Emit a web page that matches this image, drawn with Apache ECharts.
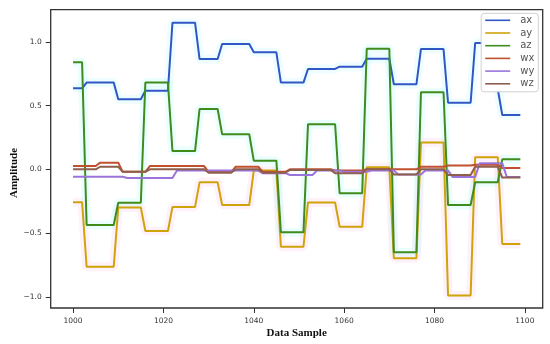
<!DOCTYPE html>
<html><head><meta charset="utf-8">
<script src="https://cdn.jsdelivr.net/npm/echarts@6/dist/echarts.min.js"></script>
<style>html,body{margin:0;padding:0;background:#fff}#c{width:550px;height:344px}</style>
</head><body><div id="c"></div>
<script>
const samples = [];
for (let s = 1000; s <= 1099; s++) samples.push(s);
const xTicks = [1000, 1020, 1040, 1060, 1080, 1100];
const yTicks = [-1.0, -0.5, 0.0, 0.5, 1.0];
const seriesNames = ['ax', 'ay', 'az', 'wx', 'wy', 'wz'];

const ax = [0.635,0.635,0.635,0.68,0.68,0.68,0.68,0.68,0.68,0.68,
0.55,0.55,0.55,0.55,0.55,0.55,0.617,0.617,0.617,0.617,
0.617,0.617,1.15,1.15,1.15,1.15,1.15,1.15,0.865,0.865,
0.865,0.865,0.865,0.983,0.983,0.983,0.983,0.983,0.983,0.983,
0.918,0.918,0.918,0.918,0.918,0.918,0.68,0.68,0.68,0.68,
0.68,0.68,0.787,0.787,0.787,0.787,0.787,0.787,0.787,0.805,
0.805,0.805,0.805,0.805,0.805,0.868,0.868,0.868,0.868,0.868,
0.868,0.667,0.667,0.667,0.667,0.667,0.667,0.943,0.943,0.943,
0.943,0.943,0.943,0.522,0.522,0.522,0.522,0.522,0.522,0.99,
0.99,0.99,0.99,0.99,0.63,0.426,0.426,0.426,0.426,0.426];
const ay = [-0.259,-0.259,-0.259,-0.764,-0.764,-0.764,-0.764,-0.764,-0.764,-0.764,
-0.30,-0.30,-0.30,-0.30,-0.30,-0.30,-0.484,-0.484,-0.484,-0.484,
-0.484,-0.484,-0.295,-0.295,-0.295,-0.295,-0.295,-0.295,-0.102,-0.102,
-0.102,-0.102,-0.102,-0.28,-0.28,-0.28,-0.28,-0.28,-0.28,-0.28,
-0.01,-0.01,-0.01,-0.01,-0.01,-0.01,-0.607,-0.607,-0.607,-0.607,
-0.607,-0.607,-0.26,-0.26,-0.26,-0.26,-0.26,-0.26,-0.26,-0.45,
-0.45,-0.45,-0.45,-0.45,-0.45,0.016,0.016,0.016,0.016,0.016,
0.016,-0.698,-0.698,-0.698,-0.698,-0.698,-0.698,0.21,0.21,0.21,
0.21,0.21,0.21,-0.99,-0.99,-0.99,-0.99,-0.99,-0.99,0.094,
0.094,0.094,0.094,0.094,0.094,-0.586,-0.586,-0.586,-0.586,-0.586];
const az = [0.839,0.839,0.839,-0.437,-0.437,-0.437,-0.437,-0.437,-0.437,-0.437,
-0.262,-0.262,-0.262,-0.262,-0.262,-0.262,0.68,0.68,0.68,0.68,
0.68,0.68,0.143,0.143,0.143,0.143,0.143,0.143,0.473,0.473,
0.473,0.473,0.473,0.275,0.275,0.275,0.275,0.275,0.275,0.275,
0.068,0.068,0.068,0.068,0.068,0.068,-0.494,-0.494,-0.494,-0.494,
-0.494,-0.494,0.353,0.353,0.353,0.353,0.353,0.353,0.353,-0.188,
-0.188,-0.188,-0.188,-0.188,-0.188,0.946,0.946,0.946,0.946,0.946,
0.946,-0.651,-0.651,-0.651,-0.651,-0.651,-0.651,0.604,0.604,0.604,
0.604,0.604,0.604,-0.28,-0.28,-0.28,-0.28,-0.28,-0.28,-0.102,
-0.102,-0.102,-0.102,-0.102,-0.102,0.078,0.078,0.078,0.078,0.078];
const wx = [0.026,0.026,0.026,0.026,0.026,0.026,0.052,0.052,0.052,0.052,
0.052,-0.02,-0.02,-0.02,-0.02,-0.02,-0.02,0.025,0.025,0.025,
0.025,0.025,0.025,0.025,0.025,0.025,0.025,0.025,0.025,0.025,
-0.02,-0.02,-0.02,-0.02,-0.02,-0.02,0.02,0.02,0.02,0.02,
0.02,0.02,-0.02,-0.02,-0.02,-0.02,-0.02,-0.02,0.0,0.0,
0.0,0.0,0.0,0.0,0.0,0.0,0.0,0.0,-0.01,-0.01,
-0.01,-0.01,-0.01,-0.01,-0.01,0.0,0.0,0.0,0.0,0.0,
0.0,0.0,0.0,0.0,0.0,0.0,0.0,0.02,0.02,0.02,
0.02,0.02,0.02,0.03,0.03,0.03,0.03,0.03,0.03,0.035,
0.035,0.035,0.035,0.035,0.035,0.01,0.01,0.01,0.01,0.01];
const wy = [-0.058,-0.058,-0.058,-0.058,-0.058,-0.058,-0.058,-0.058,-0.058,-0.058,
-0.058,-0.058,-0.068,-0.068,-0.068,-0.068,-0.068,-0.068,-0.068,-0.068,
-0.068,-0.068,-0.068,-0.01,-0.01,-0.01,-0.01,-0.01,-0.01,-0.01,
-0.01,-0.01,-0.01,-0.01,-0.01,-0.01,-0.01,-0.01,-0.01,-0.01,
-0.01,-0.01,-0.03,-0.03,-0.03,-0.03,-0.03,-0.03,-0.045,-0.045,
-0.045,-0.045,-0.045,-0.045,-0.01,-0.01,-0.01,-0.01,-0.01,-0.01,
-0.02,-0.02,-0.02,-0.02,-0.02,-0.02,-0.01,-0.01,-0.01,-0.01,
-0.01,-0.01,-0.04,-0.04,-0.04,-0.04,-0.04,-0.04,-0.01,-0.01,
-0.01,-0.01,-0.01,-0.01,-0.06,-0.06,-0.06,-0.06,-0.06,-0.06,0.047,
0.047,0.047,0.047,0.047,0.047,-0.06,-0.06,-0.06,-0.06,-0.06];
const wz = [0.0,0.0,0.0,0.0,0.0,0.0,0.02,0.02,0.02,0.02,
0.02,-0.02,-0.02,-0.02,-0.02,-0.02,-0.02,0.0,0.0,0.0,
0.0,0.0,0.0,0.0,0.0,0.0,0.0,0.0,0.0,0.0,
-0.027,-0.027,-0.027,-0.027,-0.027,-0.027,0.0,0.0,0.0,0.0,
0.0,0.0,-0.027,-0.027,-0.027,-0.027,-0.027,-0.027,-0.005,-0.005,
-0.005,-0.005,-0.005,-0.005,-0.005,-0.005,-0.005,-0.005,-0.03,-0.03,
-0.03,-0.03,-0.03,-0.03,-0.03,0.0,0.0,0.0,0.0,0.0,
0.0,-0.04,-0.04,-0.04,-0.04,-0.04,-0.04,0.0,0.0,0.0,
0.0,0.0,0.0,-0.045,-0.045,-0.045,-0.045,-0.045,-0.045,0.02,
0.02,0.02,0.02,0.02,0.02,-0.065,-0.065,-0.065,-0.065,-0.065];

const colors = ['#3157c4', '#cfa40a', '#3f8c1c', '#c0502e', '#9a74dc', '#8e5f4c'];
const glowColors = ['rgba(150,240,255,0.16)', 'rgba(255,170,220,0.16)', 'rgba(150,250,250,0.2)', null, null, null];
const values = [ax, ay, az, wx, wy, wz];

const chart = echarts.init(document.getElementById('c'), null, {renderer: 'canvas'});
const series = [];
seriesNames.forEach((n, k) => {
  if (glowColors[k]) series.push({
    name: n + '_glow', type: 'line', showSymbol: false, symbol: 'none', silent: true,
    data: samples.map((s, i) => [s, values[k][i]]),
    lineStyle: {color: glowColors[k], width: 9},
    z: 1, animation: false
  });
});
seriesNames.forEach((n, k) => series.push({
  name: n, type: 'line', showSymbol: false, symbol: 'none',
  data: samples.map((s, i) => [s, values[k][i]]),
  lineStyle: {color: colors[k], width: 2},
  itemStyle: {color: colors[k]},
  z: 2, animation: false
}));

chart.setOption({
  animation: false,
  grid: {left: 50.7, right: 7.3, top: 9.7, bottom: 36, show: true, borderColor: '#333', borderWidth: 1.3, backgroundColor: 'transparent'},
  xAxis: {
    type: 'value', min: 995.05, max: 1103.95,
    axisLine: {show: false, onZero: false},
    splitLine: {show: false},
    axisTick: {show: true, length: 5, customValues: xTicks, lineStyle: {color: '#333', width: 1}},
    axisLabel: {customValues: xTicks, margin: 9, fontSize: 7.5, color: '#333', fontFamily: 'DejaVu Sans',
      formatter: v => String(v)}
  },
  yAxis: {
    type: 'value', min: -1.088, max: 1.252,
    axisLine: {show: false, onZero: false},
    splitLine: {show: false},
    axisTick: {show: true, length: 5, customValues: yTicks, lineStyle: {color: '#333', width: 1}},
    axisLabel: {customValues: yTicks, margin: 9, fontSize: 7.5, color: '#333', fontFamily: 'DejaVu Sans',
      formatter: v => (v < 0 ? '\u2212' : '') + Math.abs(v).toFixed(1)}
  },
  legend: {
    orient: 'vertical', right: 11.7, top: 13.3,
    data: seriesNames.map((n, k) => ({name: n, itemStyle: {color: colors[k]}})),
    icon: 'rect', itemWidth: 25, itemHeight: 1.6, itemGap: 2.7,
    padding: [2, 4, 3, 4],
    backgroundColor: '#fff', borderColor: '#d0d0d0', borderWidth: 1, borderRadius: 3,
    textStyle: {fontSize: 10, lineHeight: 10, color: '#555', fontFamily: 'DejaVu Sans', padding: [0, 0, 0, 5]}
  },
  graphic: [
    {type: 'text', style: {text: 'Data Sample', font: 'bold 11px "Liberation Serif"', fill: '#111', x: 296.7, y: 333, align: 'center', verticalAlign: 'middle'}},
    {type: 'text', rotation: Math.PI / 2, x: 14, y: 173, style: {text: 'Amplitude', font: 'bold 11px "Liberation Serif"', fill: '#111', align: 'center', verticalAlign: 'middle'}}
  ],
  series: series
});
</script></body></html>
